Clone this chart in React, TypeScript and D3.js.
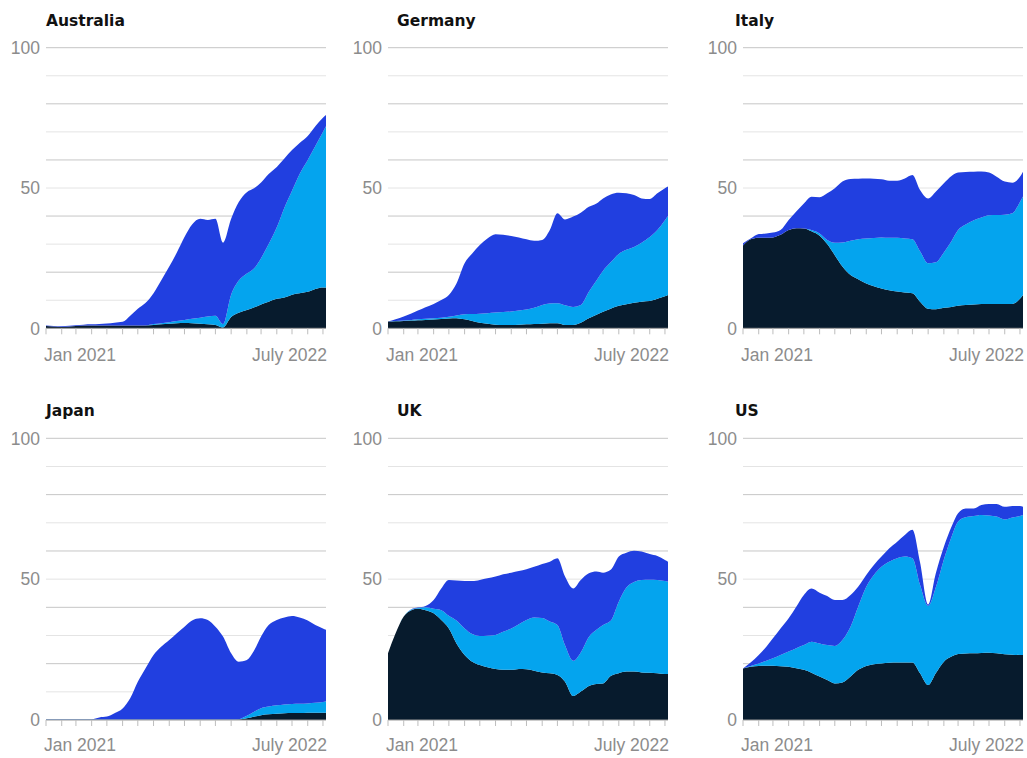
import { useEffect, useRef } from "react";
import * as d3 from "d3";

// Half-monthly samples, Jan 2021 to early July 2022
const dates = [
  "2021-01-01", "2021-01-16", "2021-02-01", "2021-02-16", "2021-03-01", "2021-03-16",
  "2021-04-01", "2021-04-16", "2021-05-01", "2021-05-16", "2021-06-01", "2021-06-16",
  "2021-07-01", "2021-07-16", "2021-08-01", "2021-08-16", "2021-09-01", "2021-09-16",
  "2021-10-01", "2021-10-16", "2021-11-01", "2021-11-16", "2021-12-01", "2021-12-16",
  "2022-01-01", "2022-01-16", "2022-02-01", "2022-02-16", "2022-03-01", "2022-03-16",
  "2022-04-01", "2022-04-16", "2022-05-01", "2022-05-16", "2022-06-01", "2022-06-16",
  "2022-07-01", "2022-07-07",
];

const countries = ["Australia", "Germany", "Italy", "Japan", "UK", "US"];
const layerKeys = ["bottom", "middle", "top"];
const layerColors = ["#071b2d", "#04a4ee", "#213fe0"];

const yTickLabels = [0, 50, 100];
const xTickLabels = ["Jan 2021", "July 2022"];

// bottom layer (dark navy)
const australiaBottom = [0.8, 0.6, 0.5, 0.6, 0.8, 1, 1, 1, 1, 1, 1, 1, 1, 1, 1.2, 1.4, 1.6, 1.8, 1.9, 1.8, 1.6, 1.4, 1.2, 0.3, 4, 5.5, 6.5, 7.5, 8.5, 9.5, 10.5, 11, 12, 12.5, 13, 14, 14.5, 14.5];
const germanyBottom = [2.4, 2.5, 2.6, 2.8, 2.9, 3, 3.1, 3.3, 3.5, 3.6, 3.2, 2.6, 2, 1.6, 1.3, 1.2, 1.2, 1.3, 1.4, 1.5, 1.6, 1.8, 1.8, 1.2, 1.2, 2, 3.6, 4.8, 5.9, 7, 8, 8.6, 9.1, 9.5, 9.7, 10.5, 11.4, 11.9];
const italyBottom = [29.5, 31.7, 32.3, 32.3, 32.4, 33.3, 35, 35.7, 35.6, 34.6, 33, 30, 26, 22, 19, 17.5, 16, 15, 14.2, 13.6, 13.1, 12.8, 12.5, 9.5, 7, 6.8, 7.3, 7.6, 8, 8.3, 8.5, 8.7, 8.7, 8.7, 8.7, 8.7, 10.5, 11.9];
const japanBottom = [0.1, 0.1, 0.1, 0.1, 0.1, 0.1, 0.1, 0.1, 0.1, 0.1, 0.1, 0.1, 0.1, 0.1, 0.1, 0.1, 0.1, 0.1, 0.1, 0.1, 0.1, 0.1, 0.1, 0.1, 0.1, 0.2, 0.6, 1.2, 1.7, 2, 2.2, 2.4, 2.5, 2.5, 2.6, 2.6, 2.6, 2.6];
const ukBottom = [23.7, 30.8, 36.7, 39, 39.5, 39, 37.9, 35.5, 32.5, 27.2, 23.1, 20.7, 19.5, 18.7, 18.1, 17.8, 17.8, 18.1, 18, 17.5, 16.9, 16.6, 16, 13.6, 8.5, 10.1, 12.1, 12.8, 13, 15.6, 16.6, 17.2, 17.2, 16.9, 16.8, 16.6, 16.3, 16.3];
const usBottom = [18.3, 18.9, 19.2, 19.3, 19.3, 19.1, 18.9, 18.4, 17.8, 16.8, 15.4, 14.2, 13, 13.3, 15.4, 17.8, 19.2, 19.8, 20.1, 20.3, 20.4, 20.4, 20.4, 16.6, 12.4, 16.6, 20.7, 22.5, 23.4, 23.6, 23.7, 23.8, 23.9, 23.7, 23.3, 23.2, 23.1, 23.1];

// middle layer (light blue)
const australiaMiddle = [0, 0, 0, 0, 0, 0, 0, 0, 0, 0, 0, 0, 0, 0, 0.3, 0.4, 0.6, 0.8, 1.1, 1.6, 2.2, 2.8, 3.3, 1.2, 8, 11.5, 13, 14, 16.5, 20.5, 25.5, 32, 37, 42.5, 47, 51, 55.5, 57.5];
const germanyMiddle = [0, 0.1, 0.2, 0.2, 0.3, 0.4, 0.5, 0.5, 0.6, 1, 1.8, 2.5, 3.2, 3.8, 4.3, 4.6, 4.8, 5, 5.3, 5.8, 6.7, 7, 7.1, 7, 6.4, 6.3, 9.4, 12.2, 14.6, 16.5, 18.5, 19.4, 19.9, 21, 22.8, 24.5, 27.1, 28.1];
const italyMiddle = [0, 0, 0, 0, 0, 0, 0, 0, 0, 0.4, 0.8, 1.5, 4.5, 8.6, 12.2, 14.2, 16, 17.2, 18.2, 18.7, 19.2, 19.2, 19.2, 18, 16.2, 16.7, 19.7, 23.4, 27, 28.7, 30, 30.8, 31.6, 31.7, 31.8, 32.3, 34.5, 35.1];
const japanMiddle = [0.1, 0.1, 0.1, 0.1, 0.1, 0.1, 0.1, 0.1, 0.1, 0.1, 0.1, 0.1, 0.1, 0.1, 0.1, 0.1, 0.1, 0.1, 0.1, 0.1, 0.1, 0.1, 0.1, 0.1, 0.1, 0.1, 0.9, 1.8, 2.5, 2.8, 3, 3.1, 3.2, 3.3, 3.3, 3.5, 3.8, 4.1];
const ukMiddle = [0, 0, 0, 0.2, 0.3, 1, 1.6, 3.5, 4.5, 8.1, 9.4, 9.8, 10.3, 11.2, 12.1, 13.5, 14.7, 15.9, 17.5, 18.9, 19.3, 18.4, 17.7, 12.9, 12.5, 13.9, 17.4, 19.2, 20.7, 19.6, 25.4, 29.8, 31.8, 32.8, 33, 33.1, 33, 32.8];
const usMiddle = [0, 0.3, 0.9, 1.7, 2.6, 4, 5.4, 7.1, 8.8, 11, 11.8, 12.4, 13.3, 15.1, 17.7, 22.4, 28.1, 31.7, 34.3, 35.9, 37, 37.6, 37, 31.4, 28.1, 30.4, 36.3, 42.5, 47.1, 48.4, 48.7, 49, 48.7, 48.5, 47.9, 48.7, 49.3, 49.7];

// top layer (royal blue)
const australiaTop = [0.2, 0.2, 0.2, 0.3, 0.3, 0.3, 0.4, 0.5, 0.7, 1, 1.3, 3.5, 6, 8, 11, 15.2, 19.8, 24.4, 29.5, 33.6, 35.2, 34.4, 34.5, 29, 27, 28, 29, 28.5, 27, 25, 21.5, 17.5, 14.5, 11, 8.5, 7, 5, 4];
const germanyTop = [0, 0.6, 1.4, 2.3, 3.1, 4.1, 5.1, 6.3, 7.8, 11.4, 18.2, 21.6, 24.5, 26.6, 27.9, 27.5, 26.9, 26.1, 25, 23.9, 23.2, 26.2, 32.1, 30.6, 32.2, 32.9, 30.3, 27.5, 25.8, 24.2, 21.8, 20.1, 18.5, 15.8, 13.6, 13.1, 11.4, 10.5];
const italyTop = [0.8, 0.3, 1.3, 1.5, 1.7, 1.7, 3.6, 5.9, 8.9, 11.9, 12.9, 16.6, 19.4, 21.7, 22, 21.6, 21.4, 21.1, 20.7, 20.3, 20.3, 21.4, 22.9, 21.8, 23.1, 25.2, 24.7, 23.3, 20.5, 18.7, 17.3, 16.4, 15.2, 13.6, 11.8, 10.9, 9, 8.8];
const japanTop = [0.1, 0.1, 0.1, 0.1, 0.1, 0.1, 0.1, 0.7, 1, 2.2, 3.9, 7.5, 13.4, 18.1, 22.9, 25.8, 28.2, 30.6, 32.9, 35.1, 35.9, 35.3, 32.9, 29.4, 23.5, 20.4, 19.8, 21.9, 25.4, 28.9, 30.3, 30.9, 31.2, 30.6, 29.4, 27.6, 26.1, 25.3];
const ukTop = [0, 0, 0, 0.1, 0.1, 0.5, 3.1, 7.7, 12.7, 14.2, 16.8, 18.8, 19.9, 20.4, 20.7, 20.4, 19.8, 18.9, 18, 18, 19.2, 21.2, 23.7, 24.4, 25.7, 25.7, 22.6, 20.7, 18.6, 18.1, 16, 12.4, 11.1, 10.1, 9.1, 8.5, 7.5, 7.1];
const usTop = [0, 1.2, 3, 5, 7.1, 9.4, 11.8, 14.7, 17.8, 18.9, 18, 17.4, 16.3, 14.2, 11.3, 7.1, 4.2, 3.5, 3.6, 4.7, 5.9, 7.7, 10.1, 8, 0.5, 5, 4.5, 3.6, 2.9, 3.1, 2.7, 3.5, 4.1, 4.5, 4.5, 4.1, 3.6, 2.9];

const bottomSeries = [australiaBottom, germanyBottom, italyBottom, japanBottom, ukBottom, usBottom];
const middleSeries = [australiaMiddle, germanyMiddle, italyMiddle, japanMiddle, ukMiddle, usMiddle];
const topSeries = [australiaTop, germanyTop, italyTop, japanTop, ukTop, usTop];

type Row = { date: Date; bottom: number; middle: number; top: number };

const App = () => {
  const ref = useRef<SVGSVGElement | null>(null);

  useEffect(() => {
    if (!ref.current) return;
    document.body.style.margin = "0";

    const svg = d3.select(ref.current).html("");
    const parse = d3.timeParse("%Y-%m-%d");
    const parsed = dates.map((d) => parse(d) as Date);

    // layout of the 3x2 grid
    const colLeft = [46, 388, 743];
    const titleX = [46, 397, 735];
    const rowY0 = [328.3, 720];
    const rowY100 = [47.7, 438.3];
    const labelOffset = [33, 31];
    const plotW = 280;
    const axisFont = "'Liberation Sans', Arial, sans-serif";

    const stack = d3.stack<Row>().keys(layerKeys);

    countries.forEach((name, ci) => {
      const col = ci % 3;
      const row = Math.floor(ci / 3);
      const left = colLeft[col];

      const x = d3
        .scaleTime()
        .domain([parsed[0], parsed[parsed.length - 1]])
        .range([left, left + plotW]);
      const y = d3.scaleLinear().domain([0, 100]).range([rowY0[row], rowY100[row]]);

      const g = svg.append("g");

      // gridlines every 10
      d3.range(10, 101, 10).forEach((v) => {
        g.append("line")
          .attr("x1", left)
          .attr("x2", left + plotW)
          .attr("y1", y(v))
          .attr("y2", y(v))
          .attr("stroke", v % 20 === 0 ? "#c6c6c6" : "#e4e4e4")
          .attr("stroke-width", 1);
      });

      const rows: Row[] = parsed.map((date, i) => ({
        date,
        bottom: bottomSeries[ci][i],
        middle: middleSeries[ci][i],
        top: topSeries[ci][i],
      }));
      const series = stack(rows);

      const area = d3
        .area<d3.SeriesPoint<Row>>()
        .x((d) => x(d.data.date))
        .y0((d) => y(d[0]))
        .y1((d) => y(d[1]))
        .curve(d3.curveMonotoneX);

      g.selectAll("path.layer")
        .data(series)
        .join("path")
        .attr("class", "layer")
        .attr("fill", (_, i) => layerColors[i])
        .attr("d", (s) => area(s) as string);

      // baseline and monthly ticks
      g.append("line")
        .attr("x1", left)
        .attr("x2", left + plotW)
        .attr("y1", y(0))
        .attr("y2", y(0))
        .attr("stroke", "#9a9a9a")
        .attr("stroke-width", 1);

      x.ticks(d3.timeMonth.every(1) as d3.TimeInterval).forEach((t) => {
        g.append("line")
          .attr("x1", x(t))
          .attr("x2", x(t))
          .attr("y1", y(0))
          .attr("y2", y(0) + 6)
          .attr("stroke", "#bdbdbd")
          .attr("stroke-width", 1);
      });

      // y labels
      yTickLabels.forEach((v) => {
        g.append("text")
          .attr("x", left - 6)
          .attr("y", y(v))
          .attr("dy", "0.36em")
          .attr("text-anchor", "end")
          .attr("fill", "#8c8c8c")
          .style("font-family", axisFont)
          .style("font-size", "17.5px")
          .text(v);
      });

      // x labels
      g.append("text")
        .attr("x", left - 2)
        .attr("y", y(0) + labelOffset[row])
        .attr("text-anchor", "start")
        .attr("fill", "#8c8c8c")
        .style("font-family", axisFont)
        .style("font-size", "17.5px")
        .text(xTickLabels[0]);

      g.append("text")
        .attr("x", left + plotW + 1)
        .attr("y", y(0) + labelOffset[row])
        .attr("text-anchor", "end")
        .attr("fill", "#8c8c8c")
        .style("font-family", axisFont)
        .style("font-size", "17.5px")
        .text(xTickLabels[1]);

      // title
      g.append("text")
        .attr("x", titleX[col])
        .attr("y", y(100) - 22)
        .attr("fill", "#111")
        .style("font-family", "'DejaVu Sans', sans-serif")
        .style("font-weight", "bold")
        .style("font-size", "15.5px")
        .text(name);
    });
  }, []);

  return <svg ref={ref} width={1027} height={758} style={{ display: "block" }}></svg>;
};

export default App;
